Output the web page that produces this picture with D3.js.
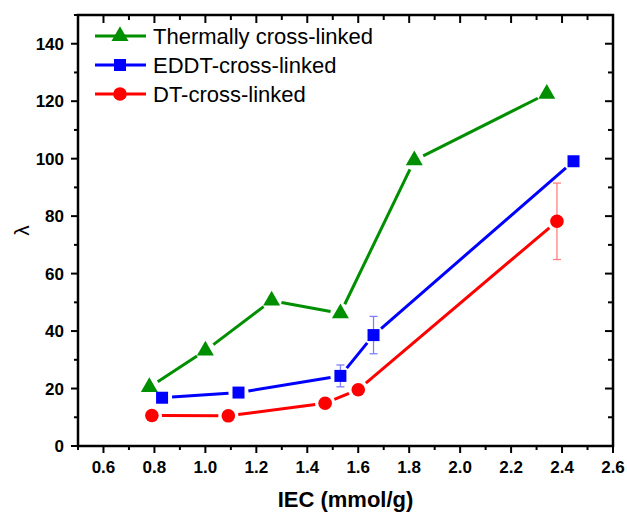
<!DOCTYPE html>
<html>
<head>
<meta charset="utf-8">
<script src="https://cdn.jsdelivr.net/npm/d3@7"></script>
<style>
  body { margin: 0; background: #fff; }
  svg { font-family: "Liberation Sans", Arial, sans-serif; }
</style>
</head>
<body>
<div id="chart"></div>
<script>
// series
var seriesNames = ["Thermally cross-linked", "EDDT-cross-linked", "DT-cross-linked"];
var thermalX = [0.78, 1.00, 1.26, 1.53, 1.82, 2.34];
var thermalY = [20.5, 33.2, 50.6, 46.2, 99.4, 122.6];
var eddtX = [0.83, 1.13, 1.53, 1.66, 2.445];
var eddtY = [16.8, 18.6, 24.4, 38.6, 99.1];
var eddtErr = [0, 0, 3.8, 6.5, 0];
var dtX = [0.79, 1.09, 1.47, 1.60, 2.38];
var dtY = [10.6, 10.5, 14.9, 19.6, 78.2];
var dtErr = [0, 0, 0, 0, 13.3];

var xTicks = [0.6, 0.8, 1.0, 1.2, 1.4, 1.6, 1.8, 2.0, 2.2, 2.4, 2.6];
var yTicks = [0, 20, 40, 60, 80, 100, 120, 140];

var W = 627, H = 512;
// plot box edges (note: "top" clashes with window.top, so prefixed)
var pLeft = 78, pRight = 613, pTop = 15, pBottom = 446;

var svg = d3.select("#chart").append("svg")
  .attr("width", W).attr("height", H);

var x = d3.scaleLinear().domain([0.5, 2.6]).range([pLeft, pRight]);
var y = d3.scaleLinear().domain([0, 150]).range([pBottom, pTop]);

var series = [
  {name: seriesNames[0], xs: thermalX, ys: thermalY, errs: null, color: "#008f00", err: "#7fc77f", shape: d3.symbolTriangle, size: 125},
  {name: seriesNames[1], xs: eddtX, ys: eddtY, errs: eddtErr, color: "#0000ff", err: "#7f7fff", shape: d3.symbolSquare, size: 144},
  {name: seriesNames[2], xs: dtX, ys: dtY, errs: dtErr, color: "#ff0000", err: "#ff8080", shape: d3.symbolCircle, size: 145}
];

function isMajor(v, step, start) {
  var k = (v - start) / step;
  return Math.abs(k - Math.round(k)) < 1e-6;
}

// --- axes (Origin-like box) ---
var minorX = d3.range(0.5, 2.61, 0.1);
var minorY = d3.range(0, 151, 10);

var axes = svg.append("g");

// bottom ticks (outward)
axes.selectAll(".bt").data(minorX).enter().append("line")
  .attr("x1", d => x(d)).attr("x2", d => x(d))
  .attr("y1", pBottom).attr("y2", d => pBottom + (isMajor(d, 0.2, 0.6) ? 7 : 4))
  .attr("stroke", "#000").attr("stroke-width", 2);
// top ticks (inward)
axes.selectAll(".tt").data(minorX).enter().append("line")
  .attr("x1", d => x(d)).attr("x2", d => x(d))
  .attr("y1", pTop).attr("y2", d => pTop + (isMajor(d, 0.2, 0.6) ? 8 : 5))
  .attr("stroke", "#000").attr("stroke-width", 2);
// left ticks (outward)
axes.selectAll(".lt").data(minorY).enter().append("line")
  .attr("y1", d => y(d)).attr("y2", d => y(d))
  .attr("x1", pLeft).attr("x2", d => pLeft - (d % 20 === 0 ? 7 : 4))
  .attr("stroke", "#000").attr("stroke-width", 2);
// right ticks (inward)
axes.selectAll(".rt").data(minorY).enter().append("line")
  .attr("y1", d => y(d)).attr("y2", d => y(d))
  .attr("x1", pRight).attr("x2", d => pRight - (d % 20 === 0 ? 8 : 5))
  .attr("stroke", "#000").attr("stroke-width", 2);

axes.append("rect")
  .attr("x", pLeft).attr("y", pTop)
  .attr("width", pRight - pLeft).attr("height", pBottom - pTop)
  .attr("fill", "none").attr("stroke", "#000").attr("stroke-width", 2.5);

// tick labels
axes.selectAll(".xl").data(xTicks).enter().append("text")
  .attr("x", d => x(d)).attr("y", pBottom + 27)
  .attr("text-anchor", "middle")
  .attr("font-size", 17).attr("font-weight", "bold")
  .text(d => d.toFixed(1));

axes.selectAll(".yl").data(yTicks).enter().append("text")
  .attr("x", pLeft - 14).attr("y", d => y(d) + 6)
  .attr("text-anchor", "end")
  .attr("font-size", 17).attr("font-weight", "bold")
  .text(d => d);

// axis titles
svg.append("text")
  .attr("x", (pLeft + pRight) / 2).attr("y", 507)
  .attr("text-anchor", "middle")
  .attr("font-size", 22).attr("font-weight", "bold")
  .text("IEC (mmol/g)");

svg.append("text")
  .attr("transform", "translate(29," + y(75) + ") rotate(-90)")
  .attr("text-anchor", "middle")
  .attr("font-size", 21)
  .text("\u03bb");

// --- data ---
var gap = 10;
series.forEach(function(s) {
  var pts = s.xs.map((v, i) => [x(v), y(s.ys[i])]);
  var g = svg.append("g");

  // line segments stop short of the markers
  for (var i = 0; i < pts.length - 1; i++) {
    var a = pts[i], b = pts[i + 1];
    var dx = b[0] - a[0], dy = b[1] - a[1];
    var len = Math.sqrt(dx * dx + dy * dy);
    if (len <= 2 * gap) continue;
    var ux = dx / len, uy = dy / len;
    g.append("line")
      .attr("x1", a[0] + ux * gap).attr("y1", a[1] + uy * gap)
      .attr("x2", b[0] - ux * gap).attr("y2", b[1] - uy * gap)
      .attr("stroke", s.color).attr("stroke-width", 3);
  }

  // error bars
  if (s.errs) {
    s.errs.forEach(function(e, i) {
      if (!e) return;
      var cx = x(s.xs[i]);
      var y1 = y(s.ys[i] + e), y2 = y(s.ys[i] - e);
      g.append("line").attr("x1", cx).attr("x2", cx).attr("y1", y1).attr("y2", y2)
        .attr("stroke", s.err).attr("stroke-width", 1.3);
      [y1, y2].forEach(function(yy) {
        g.append("line").attr("x1", cx - 4).attr("x2", cx + 4).attr("y1", yy).attr("y2", yy)
          .attr("stroke", s.err).attr("stroke-width", 1.3);
      });
    });
  }

  g.selectAll("path.m").data(pts).enter().append("path")
    .attr("d", d3.symbol().type(s.shape).size(s.size))
    .attr("transform", d => "translate(" + d[0] + "," + d[1] + ")")
    .attr("fill", s.color);
});

// --- legend ---
var legend = svg.append("g");
series.forEach(function(s, i) {
  var ly = 36 + i * 29;
  legend.append("line")
    .attr("x1", 95).attr("x2", 146).attr("y1", ly).attr("y2", ly)
    .attr("stroke", s.color).attr("stroke-width", 3);
  legend.append("path")
    .attr("d", d3.symbol().type(s.shape).size(s.size))
    .attr("transform", "translate(120," + ly + ")")
    .attr("fill", s.color);
  legend.append("text")
    .attr("x", 153).attr("y", ly + 8)
    .attr("font-size", 22)
    .text(s.name);
});
</script>
</body>
</html>
